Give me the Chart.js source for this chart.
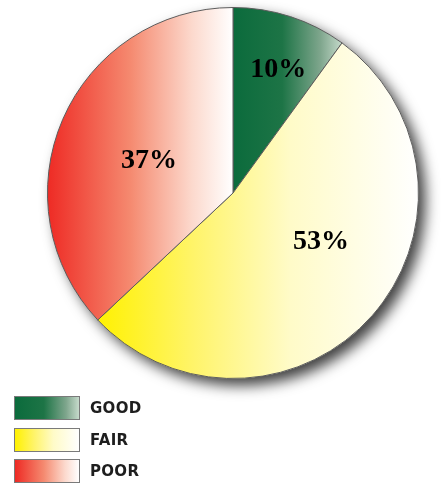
<!DOCTYPE html>
<html>
<head>
<meta charset="utf-8">
<script src="https://cdn.jsdelivr.net/npm/chart.js@4.4.1/dist/chart.umd.min.js"></script>
<style>
  body { margin: 0; background: #fff; }
  #wrap { position: relative; width: 441px; height: 487px; }
  #legenda { position: absolute; left: 14px; top: 396px; }
  .item { display: flex; align-items: center; height: 24px; margin-bottom: 7.5px; }
  .caixa { width: 64px; height: 22px; border: 1.5px solid #7a7a7a; margin-right: 10px; }
  .texto { font-family: "DejaVu Sans", sans-serif; font-weight: bold; font-size: 15px; color: #1e1e1e; letter-spacing: 0.3px; }
</style>
</head>
<body>
<div id="wrap">
  <canvas id="graficoPizza" width="441" height="487"></canvas>
  <div id="legenda"></div>
</div>
<script>
// Dados do gráfico
var categorias = ['GOOD', 'FAIR', 'POOR'];
var valores = [10, 53, 37];
var rotulos = ['10%', '53%', '37%'];

// Cores dos degradês (esquerda -> direita)
var degrades = [
    [[0, '#0b6b3c'], [0.45, '#1d7446'], [0.8, '#7fa68d'], [1, '#c6dacb']],
    [[0, '#fff100'], [0.3, '#fff46a'], [0.6, '#fffbc8'], [1, '#ffffff']],
    [[0, '#ee2a24'], [0.45, '#f58a70'], [0.78, '#fcd9cd'], [1, '#ffffff']]
];

// Monta o degradê horizontal de cada fatia usando a área do gráfico
function corFatia(context) {
    var chart = context.chart;
    var area = chart.chartArea;
    var i = context.dataIndex;
    var lista = degrades[i];
    if (!area) return lista[0][1];
    var cx = (area.left + area.right) / 2;
    var cy = (area.top + area.bottom) / 2;
    var r = Math.min(area.right - area.left, area.bottom - area.top) / 2;
    var total = valores.reduce(function (a, b) { return a + b; }, 0);
    var antes = 0;
    for (var k = 0; k < i; k++) antes += valores[k];
    var a0 = -Math.PI / 2 + 2 * Math.PI * antes / total;
    var a1 = a0 + 2 * Math.PI * valores[i] / total;
    var xs = [cx, cx + r * Math.cos(a0), cx + r * Math.cos(a1)];
    // inclui os extremos (0 e pi) se estiverem dentro da fatia
    [0, Math.PI, 2 * Math.PI].forEach(function (a) {
        if (a >= a0 && a <= a1) xs.push(cx + r * Math.cos(a));
    });
    var x0 = Math.min.apply(null, xs), x1 = Math.max.apply(null, xs);
    var g = chart.ctx.createLinearGradient(x0, 0, x1, 0);
    lista.forEach(function (s) { g.addColorStop(s[0], s[1]); });
    return g;
}

// Sombra atrás da pizza
var sombraPlugin = {
    id: 'sombra',
    beforeDatasetsDraw: function (chart) {
        var arc = chart.getDatasetMeta(0).data[0];
        if (!arc) return;
        var ctx = chart.ctx;
        ctx.save();
        ctx.shadowColor = 'rgba(0,0,0,0.75)';
        ctx.shadowBlur = 14;
        ctx.shadowOffsetX = 7;
        ctx.shadowOffsetY = 7;
        ctx.fillStyle = '#ffffff';
        ctx.beginPath();
        ctx.arc(arc.x, arc.y, arc.outerRadius, 0, Math.PI * 2);
        ctx.fill();
        ctx.restore();
    }
};

// Textos de porcentagem dentro das fatias
var rotuloPlugin = {
    id: 'rotulos',
    afterDatasetsDraw: function (chart, args, opts) {
        var ctx = chart.ctx;
        ctx.save();
        ctx.font = 'bold 28px "Liberation Serif", serif';
        ctx.fillStyle = '#000';
        ctx.textAlign = 'center';
        ctx.textBaseline = 'middle';
        chart.getDatasetMeta(0).data.forEach(function (arc, i) {
            var meio = (arc.startAngle + arc.endAngle) / 2;
            var d = arc.outerRadius * opts.raios[i];
            var desl = opts.deslocamentos[i];
            ctx.fillText(rotulos[i], arc.x + Math.cos(meio) * d + desl[0], arc.y + Math.sin(meio) * d + desl[1]);
        });
        ctx.restore();
    }
};

var ctx = document.getElementById('graficoPizza').getContext('2d');
var meuGraficoPizza = new Chart(ctx, {
    type: 'pie',
    data: {
        labels: categorias,
        datasets: [{
            data: valores,
            backgroundColor: corFatia,
            borderColor: '#5c5c5c',
            borderWidth: 1
        }]
    },
    options: {
        responsive: false,
        animation: false,
        layout: { padding: { left: 47, right: 22, top: 7, bottom: 108 } },
        plugins: {
            legend: { display: false },
            tooltip: { enabled: false },
            rotulos: {
                raios: [0.7, 0.56, 0.5],
                deslocamentos: [[5, 0], [10, -20], [1, 5]]
            }
        }
    },
    plugins: [sombraPlugin, rotuloPlugin]
});

// Legenda em HTML com os mesmos degradês
var legenda = document.getElementById('legenda');
categorias.forEach(function (nome, i) {
    var css = degrades[i].map(function (s) { return s[1] + ' ' + (s[0] * 100) + '%'; }).join(', ');
    var item = document.createElement('div');
    item.className = 'item';
    item.innerHTML = '<div class="caixa" style="background: linear-gradient(to right, ' + css + ')"></div>' +
        '<span class="texto">' + nome + '</span>';
    legenda.appendChild(item);
});
</script>
</body>
</html>
